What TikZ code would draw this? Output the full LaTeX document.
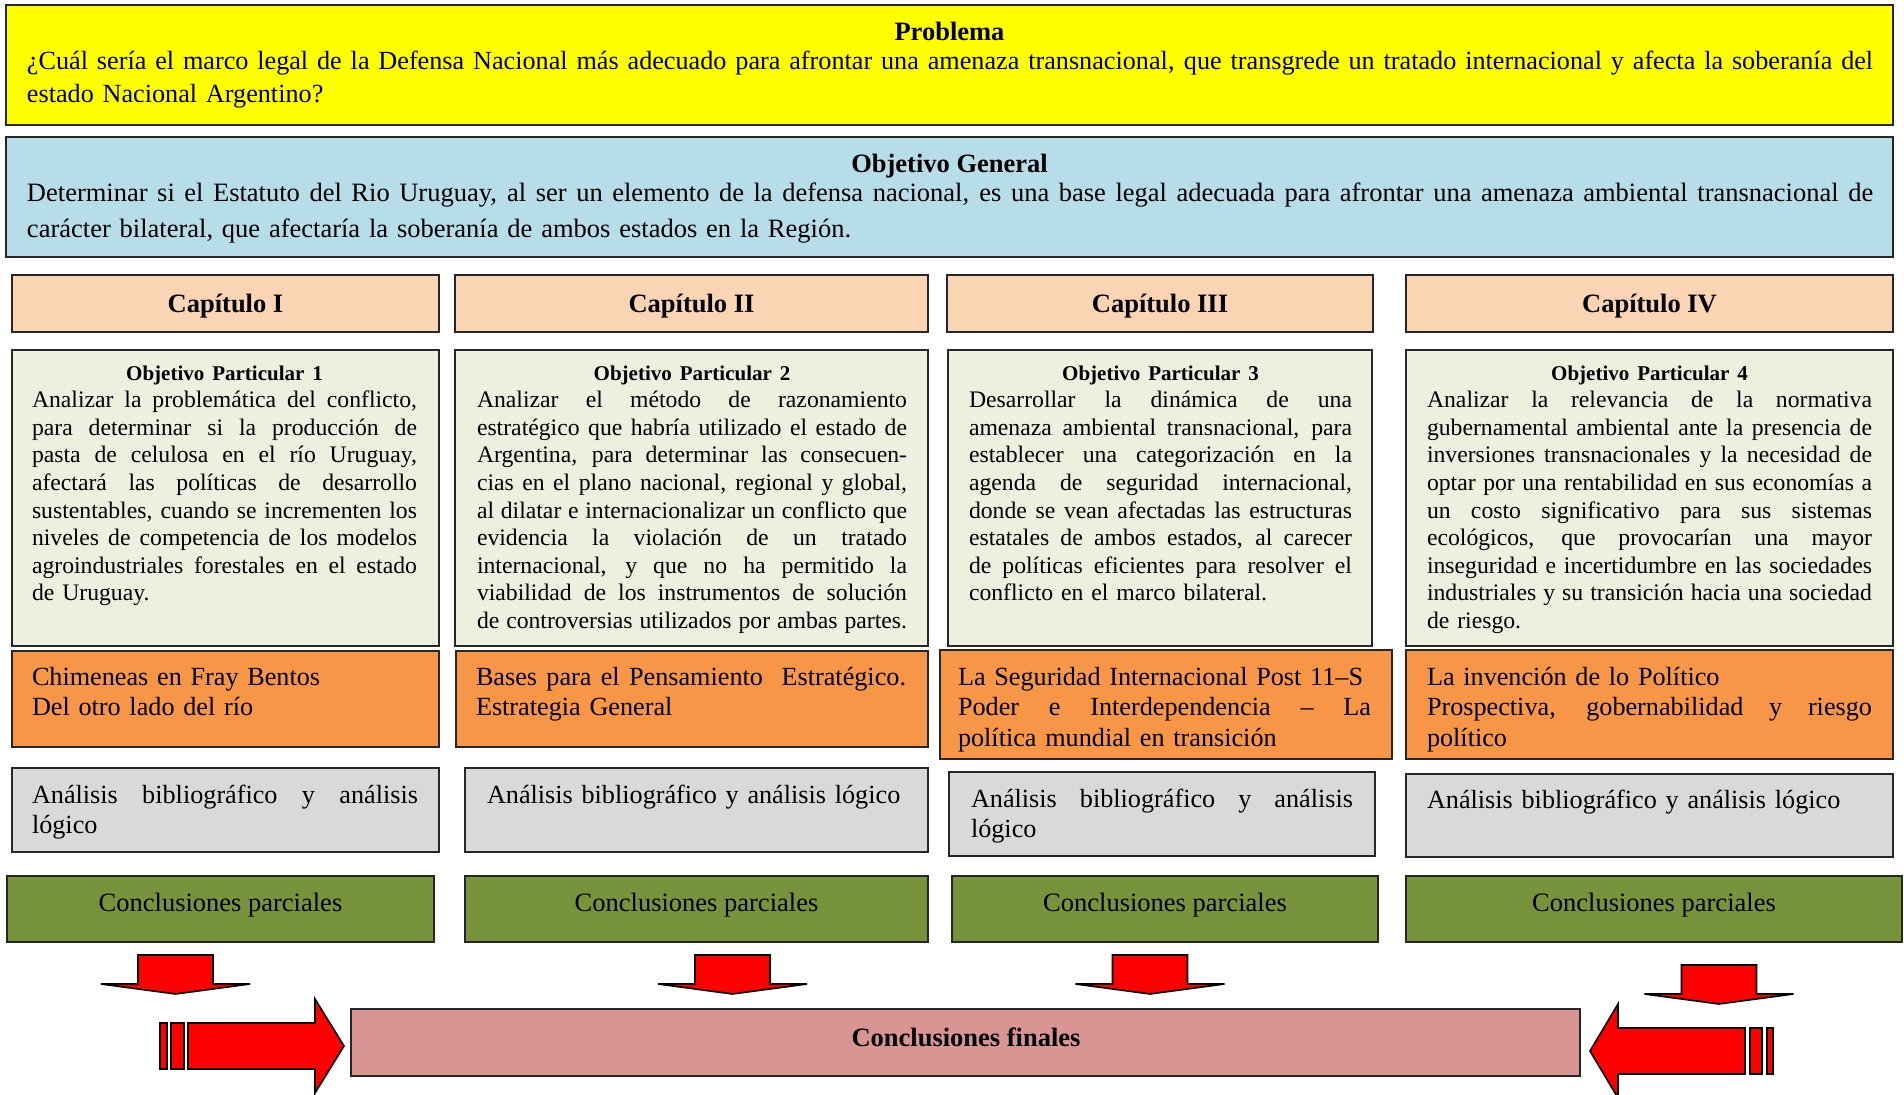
\documentclass[tikz,border=0pt]{standalone}
\usepackage{fontspec}
\setmainfont{Liberation Serif}
\definecolor{cYellow}{HTML}{FFFF00}
\definecolor{cBlue}{HTML}{B7DDE8}
\definecolor{cPeach}{HTML}{FBD4B4}
\definecolor{cPale}{HTML}{EBF1DE}
\definecolor{cOrange}{HTML}{F79646}
\definecolor{cGrey}{HTML}{D9D9D9}
\definecolor{cGreen}{HTML}{77933C}
\definecolor{cRose}{HTML}{D99594}
\definecolor{cRed}{HTML}{FF0000}
\newlength\tw
\newcommand\fMain{\fontsize{26.5}{33}\selectfont}
\newcommand\fProb{\fontsize{26.2}{33}\selectfont}
\newcommand\fGen{\fontsize{26.5}{36}\selectfont}
\newcommand\fOp{\fontsize{23.7}{27.6}\selectfont}
\newcommand\fOpT{\bfseries\fontsize{21}{27.6}\selectfont}
\newcommand\fOr{\fontsize{26.2}{30.5}\selectfont}
\newcommand\fGr{\fontsize{26.2}{30}\selectfont}
\newcommand\SL[1]{\leavevmode\hbox to \tw{\spaceskip=\fontdimen2\font plus 1fil minus \fontdimen4\font\relax #1}}
\newcommand\CL[1]{\leavevmode\hbox to \tw{\hss#1\hss}}
\newcommand\bx[6]{\node[boxst, fill=#6, minimum width={#4-#2}, minimum height={#5-#3}] (#1) at (#2,#3) {};}
\tikzset{
  boxst/.style={draw=black!85, line width=1.8pt, anchor=north west, inner sep=0pt, outer sep=0pt},
  txt/.style={anchor=base west, inner sep=0pt, outer sep=0pt, align=left},
  ctxt/.style={anchor=base, inner sep=0pt, outer sep=0pt},
  blockarrow/.style={fill=cRed, draw=black, line width=1.6pt, line join=miter},
}
\newcommand\darrow[2]{\draw[blockarrow] ({#1-37.5},{#2}) -- ({#1+37.5},{#2}) -- ({#1+37.5},{#2+29}) -- ({#1+74.5},{#2+29}) -- ({#1},{#2+39}) -- ({#1-74.5},{#2+29}) -- ({#1-37.5},{#2+29}) -- cycle;}
\begin{document}
\begin{tikzpicture}[x=1pt,y=-1pt]
\useasboundingbox (0,0) rectangle (1904,1095);
\fill[white] (0,0) rectangle (1904,1095);
% boxes
\bx{prob}{6}{5}{1893}{125}{cYellow}
\bx{gen}{6}{137}{1893}{257}{cBlue}
\bx{cap1}{12}{275}{439}{332}{cPeach}
\bx{cap2}{455}{275}{928}{332}{cPeach}
\bx{cap3}{947}{275}{1373}{332}{cPeach}
\bx{cap4}{1406}{275}{1893}{332}{cPeach}
\bx{op1}{12}{350}{439}{646}{cPale}
\bx{op2}{455}{350}{928}{646}{cPale}
\bx{op3}{948}{350}{1372}{646}{cPale}
\bx{op4}{1406}{350}{1893}{646}{cPale}
\bx{or1}{12}{651}{439}{747}{cOrange}
\bx{or2}{456}{651}{928}{747}{cOrange}
\bx{or3}{940}{650}{1392}{759}{cOrange}
\bx{or4}{1406}{650}{1893}{759}{cOrange}
\bx{gr1}{12}{768}{439}{852}{cGrey}
\bx{gr2}{465}{768}{928}{852}{cGrey}
\bx{gr3}{949}{772}{1375}{856}{cGrey}
\bx{gr4}{1406}{774}{1893}{857}{cGrey}
\bx{gn1}{7}{876}{434}{942}{cGreen}
\bx{gn2}{465}{876}{928}{942}{cGreen}
\bx{gn3}{952}{876}{1378}{942}{cGreen}
\bx{gn4}{1406}{876}{1902}{942}{cGreen}
\bx{fin}{351}{1009}{1580}{1076}{cRose}
% problem
\node[ctxt, font=\fMain\bfseries] (probh) at (949.5,40) {Problema};
\node[txt, text width=1846pt, font={\fProb\setlength{\tw}{1846pt}}] (probt) at (27,69) {%
\SL{¿Cuál sería el marco legal de la Defensa Nacional más adecuado para afrontar una amenaza transnacional, que transgrede un tratado internacional y afecta la soberanía del}\\%
estado Nacional Argentino?};
% general objective
\node[ctxt, font=\fMain\bfseries] (genh) at (949.5,172) {Objetivo General};
\node[txt, text width=1846pt, font={\fGen\setlength{\tw}{1846pt}}] (gent) at (27,201) {%
\SL{Determinar si el Estatuto del Rio Uruguay, al ser un elemento de la defensa nacional, es una base legal adecuada para afrontar una amenaza ambiental transnacional de}\\%
carácter bilateral, que afectaría la soberanía de ambos estados en la Región.};
% chapters
\node[ctxt, font=\fMain\bfseries] (cap1t) at (225.5,312) {Capítulo I};
\node[ctxt, font=\fMain\bfseries] (cap2t) at (691.5,312) {Capítulo II};
\node[ctxt, font=\fMain\bfseries] (cap3t) at (1160,312) {Capítulo III};
\node[ctxt, font=\fMain\bfseries] (cap4t) at (1649.5,312) {Capítulo IV};
% particular objectives
\node[txt, text width=385pt, font={\fOp\setlength{\tw}{385pt}}] (op1t) at (32,380) {%
\CL{\fOpT Objetivo Particular 1}\\%
\SL{Analizar la problemática del conflicto,}\\%
\SL{para determinar si la producción de}\\%
\SL{pasta de celulosa en el río Uruguay,}\\%
\SL{afectará las políticas de desarrollo}\\%
\SL{sustentables, cuando se incrementen los}\\%
\SL{niveles de competencia de los modelos}\\%
\SL{agroindustriales forestales en el estado}\\%
de Uruguay.};
\node[txt, text width=430pt, font={\fOp\setlength{\tw}{430pt}}] (op2t) at (477,380) {%
\CL{\fOpT Objetivo Particular 2}\\%
\SL{Analizar el método de razonamiento}\\%
\SL{estratégico que habría utilizado el estado de}\\%
\SL{Argentina, para determinar las consecuen-}\\%
\SL{cias en el plano nacional, regional y global,}\\%
\SL{al dilatar e internacionalizar un conflicto que}\\%
\SL{evidencia la violación de un tratado}\\%
\SL{internacional, y que no ha permitido la}\\%
\SL{viabilidad de los instrumentos de solución}\\%
\SL{de controversias utilizados por ambas partes.}};
\node[txt, text width=383pt, font={\fOp\setlength{\tw}{383pt}}] (op3t) at (969,380) {%
\CL{\fOpT Objetivo Particular 3}\\%
\SL{Desarrollar la dinámica de una}\\%
\SL{amenaza ambiental transnacional, para}\\%
\SL{establecer una categorización en la}\\%
\SL{agenda de seguridad internacional,}\\%
\SL{donde se vean afectadas las estructuras}\\%
\SL{estatales de ambos estados, al carecer}\\%
\SL{de políticas eficientes para resolver el}\\%
conflicto en el marco bilateral.};
\node[txt, text width=445pt, font={\fOp\setlength{\tw}{445pt}}] (op4t) at (1427,380) {%
\CL{\fOpT Objetivo Particular 4}\\%
\SL{Analizar la relevancia de la normativa}\\%
\SL{gubernamental ambiental ante la presencia de}\\%
\SL{inversiones transnacionales y la necesidad de}\\%
\SL{optar por una rentabilidad en sus economías a}\\%
\SL{un costo significativo para sus sistemas}\\%
\SL{ecológicos, que provocarían una mayor}\\%
\SL{inseguridad e incertidumbre en las sociedades}\\%
\SL{industriales y su transición hacia una sociedad}\\%
de riesgo.};
% bibliography (orange)
\node[txt, text width=387pt, font={\fOr\setlength{\tw}{387pt}}] (or1t) at (32,685) {%
Chimeneas en Fray Bentos\\%
Del otro lado del río};
\node[txt, text width=430pt, font={\fOr\setlength{\tw}{430pt}}] (or2t) at (476,685) {%
\SL{Bases para el Pensamiento\ \ Estratégico.}\\%
Estrategia General};
\node[txt, text width=413pt, font={\fOr\setlength{\tw}{413pt}}] (or3t) at (958,685) {%
La Seguridad Internacional Post 11–S\\%
\SL{Poder e Interdependencia – La}\\%
política mundial en transición};
\node[txt, text width=445pt, font={\fOr\setlength{\tw}{445pt}}] (or4t) at (1427,685) {%
La invención de lo Político\\%
\SL{Prospectiva, gobernabilidad y riesgo}\\%
político};
% method (grey)
\node[txt, text width=386pt, font={\fGr\setlength{\tw}{386pt}}] (gr1t) at (32,803) {%
\SL{Análisis bibliográfico y análisis}\\%
lógico};
\node[txt, text width=420pt, font={\fGr\setlength{\tw}{420pt}}] (gr2t) at (487,803) {%
Análisis bibliográfico y análisis lógico};
\node[txt, text width=382pt, font={\fGr\setlength{\tw}{382pt}}] (gr3t) at (971,807) {%
\SL{Análisis bibliográfico y análisis}\\%
lógico};
\node[txt, text width=445pt, font={\fGr\setlength{\tw}{445pt}}] (gr4t) at (1427,808) {%
Análisis bibliográfico y análisis lógico};
% partial conclusions
\node[ctxt, font=\fMain] (gn1t) at (220.5,911) {Conclusiones parciales};
\node[ctxt, font=\fMain] (gn2t) at (696.5,911) {Conclusiones parciales};
\node[ctxt, font=\fMain] (gn3t) at (1165,911) {Conclusiones parciales};
\node[ctxt, font=\fMain] (gn4t) at (1654,911) {Conclusiones parciales};
% final
\node[ctxt, font=\fMain\bfseries] (fint) at (966,1046) {Conclusiones finales};
% down arrows
\darrow{175.5}{955}
\darrow{732.5}{955}
\darrow{1150}{955}
\darrow{1719}{965}
% left block arrow
\draw[blockarrow] (160,1023) rectangle (167,1069);
\draw[blockarrow] (171,1023) rectangle (184,1069);
\draw[blockarrow] (188,1023) -- (315,1023) -- (315,999) -- (344,1046) -- (315,1093) -- (315,1069) -- (188,1069) -- cycle;
% right block arrow
\draw[blockarrow] (1767,1028) rectangle (1773,1074);
\draw[blockarrow] (1750,1028) rectangle (1762,1074);
\draw[blockarrow] (1745,1028) -- (1618,1028) -- (1618,1004) -- (1590,1051) -- (1618,1098) -- (1618,1074) -- (1745,1074) -- cycle;
\end{tikzpicture}
\end{document}
